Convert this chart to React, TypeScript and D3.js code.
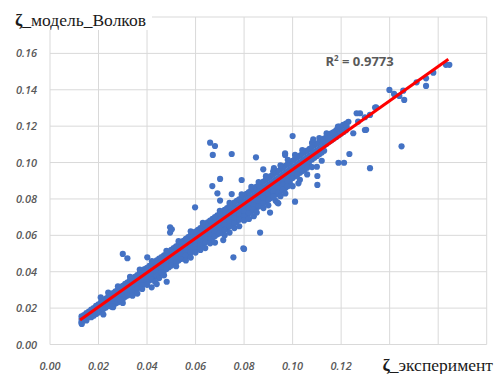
import React from 'react';
import * as d3 from 'd3';

// dense band along the diagonal: [x, y1, y2, ...]
const bandColumns: number[][] = [
  [0.013, 0.0155, 0.0140, 0.0125, 0.0118],
  [0.015, 0.0172, 0.0158, 0.0145, 0.0132],
  [0.017, 0.0192, 0.0178, 0.0163, 0.0150],
  [0.019, 0.0212, 0.0196, 0.0181, 0.0168],
  [0.021, 0.0232, 0.0217, 0.0200, 0.0186],
  [0.023, 0.0252, 0.0236, 0.0220, 0.0203],
  [0.025, 0.0272, 0.0256, 0.0238, 0.0222],
  [0.027, 0.0292, 0.0274, 0.0257, 0.0240, 0.0225],
  [0.029, 0.0312, 0.0294, 0.0276, 0.0259, 0.0243],
  [0.031, 0.0333, 0.0313, 0.0295, 0.0278, 0.0262],
  [0.033, 0.0354, 0.0332, 0.0314, 0.0296, 0.0280],
  [0.035, 0.0372, 0.0352, 0.0332, 0.0315, 0.0298],
  [0.037, 0.0392, 0.0370, 0.0351, 0.0333, 0.0316],
  [0.039, 0.0414, 0.0390, 0.0370, 0.0352, 0.0335],
  [0.041, 0.0432, 0.0409, 0.0388, 0.0370, 0.0352],
  [0.043, 0.0452, 0.0428, 0.0407, 0.0389, 0.0370],
  [0.045, 0.0472, 0.0447, 0.0426, 0.0407, 0.0388],
  [0.047, 0.0490, 0.0466, 0.0445, 0.0426, 0.0406],
  [0.049, 0.0510, 0.0485, 0.0464, 0.0445, 0.0425],
  [0.051, 0.0530, 0.0504, 0.0482, 0.0463, 0.0443],
  [0.053, 0.0550, 0.0524, 0.0501, 0.0481, 0.0462],
  [0.055, 0.0570, 0.0542, 0.0520, 0.0500, 0.0480],
  [0.057, 0.0590, 0.0561, 0.0538, 0.0518, 0.0498],
  [0.059, 0.0610, 0.0580, 0.0557, 0.0537, 0.0516],
  [0.061, 0.0630, 0.0599, 0.0576, 0.0555, 0.0534],
  [0.063, 0.0652, 0.0619, 0.0595, 0.0574, 0.0552],
  [0.065, 0.0671, 0.0638, 0.0614, 0.0592, 0.0570],
  [0.067, 0.0690, 0.0657, 0.0632, 0.0610, 0.0588],
  [0.069, 0.0710, 0.0676, 0.0651, 0.0628, 0.0606],
  [0.071, 0.0730, 0.0695, 0.0670, 0.0646, 0.0622],
  [0.073, 0.0750, 0.0715, 0.0689, 0.0665, 0.0640],
  [0.075, 0.0770, 0.0734, 0.0708, 0.0683, 0.0658],
  [0.077, 0.0790, 0.0753, 0.0727, 0.0702, 0.0676],
  [0.079, 0.0808, 0.0772, 0.0745, 0.0720, 0.0695],
  [0.081, 0.0828, 0.0791, 0.0764, 0.0739, 0.0713],
  [0.083, 0.0848, 0.0810, 0.0783, 0.0757, 0.0731],
  [0.085, 0.0866, 0.0830, 0.0801, 0.0776, 0.0750],
  [0.087, 0.0886, 0.0848, 0.0820, 0.0794, 0.0768],
  [0.089, 0.0906, 0.0867, 0.0839, 0.0813, 0.0786],
  [0.091, 0.0925, 0.0886, 0.0858, 0.0831, 0.0805],
  [0.093, 0.0944, 0.0905, 0.0876, 0.0850, 0.0823],
  [0.095, 0.0963, 0.0924, 0.0895, 0.0868, 0.0842],
  [0.097, 0.0982, 0.0943, 0.0914, 0.0887, 0.0860],
  [0.099, 0.1000, 0.0962, 0.0932, 0.0905, 0.0880],
  [0.101, 0.1020, 0.0981, 0.0951, 0.0925],
  [0.103, 0.1038, 0.1000, 0.0970, 0.0944],
  [0.105, 0.1058, 0.1019, 0.0989, 0.0962],
  [0.107, 0.1075, 0.1038, 0.1008, 0.0982],
  [0.109, 0.1095, 0.1057, 0.1027],
  [0.111, 0.1113, 0.1076, 0.1046],
  [0.113, 0.1132, 0.1095, 0.1065],
  [0.115, 0.1150, 0.1114],
  [0.117, 0.1168, 0.1132],
  [0.119, 0.1188, 0.1150],
  [0.121, 0.1205, 0.1168],
  [0.123, 0.1224],
];

// second pass of the band, between the columns above
const bandColumnsB: number[][] = [
  [0.014, 0.0162, 0.0148, 0.0136],
  [0.016, 0.0181, 0.0165, 0.0151],
  [0.018, 0.0200, 0.0186, 0.0170, 0.0158],
  [0.020, 0.0221, 0.0205, 0.0190, 0.0176],
  [0.022, 0.0240, 0.0224, 0.0210, 0.0195],
  [0.024, 0.0262, 0.0244, 0.0228, 0.0212],
  [0.026, 0.0282, 0.0262, 0.0247, 0.0230],
  [0.028, 0.0301, 0.0283, 0.0266, 0.0249, 0.0232],
  [0.030, 0.0322, 0.0300, 0.0284, 0.0268, 0.0250],
  [0.032, 0.0341, 0.0322, 0.0304, 0.0286, 0.0270],
  [0.034, 0.0362, 0.0340, 0.0322, 0.0305, 0.0288],
  [0.036, 0.0381, 0.0360, 0.0341, 0.0323, 0.0306],
  [0.038, 0.0402, 0.0378, 0.0360, 0.0342, 0.0325],
  [0.040, 0.0421, 0.0398, 0.0379, 0.0361, 0.0343, 0.0328],
  [0.042, 0.0441, 0.0418, 0.0397, 0.0379, 0.0360],
  [0.044, 0.0462, 0.0437, 0.0416, 0.0397, 0.0378],
  [0.046, 0.0480, 0.0456, 0.0435, 0.0416, 0.0396],
  [0.048, 0.0500, 0.0475, 0.0454, 0.0435, 0.0415],
  [0.050, 0.0520, 0.0494, 0.0473, 0.0454, 0.0434],
  [0.052, 0.0540, 0.0513, 0.0491, 0.0472, 0.0452],
  [0.054, 0.0560, 0.0533, 0.0510, 0.0490, 0.0470],
  [0.056, 0.0580, 0.0551, 0.0529, 0.0508, 0.0488],
  [0.058, 0.0600, 0.0570, 0.0548, 0.0527, 0.0506],
  [0.060, 0.0620, 0.0590, 0.0566, 0.0545, 0.0524, 0.0505],
  [0.062, 0.0640, 0.0610, 0.0585, 0.0564, 0.0542],
  [0.064, 0.0660, 0.0628, 0.0604, 0.0582, 0.0560],
  [0.066, 0.0681, 0.0647, 0.0622, 0.0600, 0.0578],
  [0.068, 0.0700, 0.0666, 0.0641, 0.0618, 0.0596],
  [0.070, 0.0720, 0.0686, 0.0660, 0.0636, 0.0612],
  [0.072, 0.0740, 0.0705, 0.0679, 0.0655, 0.0630],
  [0.074, 0.0760, 0.0724, 0.0698, 0.0673, 0.0648],
  [0.076, 0.0780, 0.0743, 0.0717, 0.0692, 0.0667],
  [0.078, 0.0798, 0.0762, 0.0736, 0.0711, 0.0686],
  [0.080, 0.0818, 0.0781, 0.0755, 0.0730, 0.0704, 0.0682],
  [0.082, 0.0838, 0.0800, 0.0773, 0.0748, 0.0722],
  [0.084, 0.0856, 0.0820, 0.0792, 0.0766, 0.0741],
  [0.086, 0.0876, 0.0839, 0.0811, 0.0785, 0.0759],
  [0.088, 0.0896, 0.0858, 0.0830, 0.0804, 0.0777],
  [0.090, 0.0915, 0.0877, 0.0848, 0.0822, 0.0796],
  [0.092, 0.0934, 0.0896, 0.0867, 0.0841, 0.0814],
  [0.094, 0.0953, 0.0915, 0.0886, 0.0859, 0.0833],
  [0.096, 0.0972, 0.0934, 0.0905, 0.0878, 0.0851],
  [0.098, 0.0991, 0.0953, 0.0923, 0.0896, 0.0870],
  [0.100, 0.1010, 0.0972, 0.0942, 0.0915],
  [0.102, 0.1029, 0.0990, 0.0961, 0.0934],
  [0.104, 0.1048, 0.1009, 0.0980, 0.0953],
  [0.106, 0.1066, 0.1028, 0.0999, 0.0972],
  [0.108, 0.1085, 0.1047, 0.1017],
  [0.110, 0.1104, 0.1066, 0.1036],
  [0.112, 0.1122, 0.1085, 0.1055],
  [0.114, 0.1141, 0.1104],
  [0.116, 0.1160, 0.1122],
  [0.118, 0.1178, 0.1141],
  [0.120, 0.1196, 0.1160],
  [0.122, 0.1214, 0.1178],
];

// ragged points just off the band edges
const edgePoints: [number, number][] = [
  [0.022, 0.0165], [0.026, 0.0205], [0.030, 0.0228], [0.034, 0.0268],
  [0.036, 0.0280], [0.038, 0.0305], [0.045, 0.0365], [0.047, 0.0380],
  [0.052, 0.0430], [0.056, 0.0462], [0.058, 0.0478], [0.062, 0.0520],
  [0.064, 0.0530], [0.066, 0.0556], [0.068, 0.0560], [0.072, 0.0600],
  [0.074, 0.0615], [0.076, 0.0640], [0.078, 0.0650], [0.082, 0.0690],
  [0.084, 0.0705], [0.088, 0.0750], [0.090, 0.0765], [0.093, 0.0790],
  [0.095, 0.0815], [0.097, 0.0830], [0.100, 0.0870], [0.103, 0.0905],
  [0.106, 0.0935], [0.108, 0.0975], [0.112, 0.1010],
  [0.024, 0.0285], [0.028, 0.0320], [0.033, 0.0372], [0.037, 0.0412],
  [0.042, 0.0458], [0.048, 0.0515], [0.053, 0.0568], [0.058, 0.0622],
  [0.063, 0.0668], [0.070, 0.0735], [0.074, 0.0778], [0.079, 0.0825],
  [0.083, 0.0866], [0.086, 0.0893], [0.089, 0.0925], [0.092, 0.0952],
  [0.095, 0.0985], [0.098, 0.1015], [0.101, 0.1042], [0.104, 0.1068],
  [0.108, 0.1108], [0.111, 0.1135], [0.114, 0.1160],
];

// scattered points away from the band
const outlierPoints: [number, number][] = [
  [0.0131, 0.0113], [0.0209, 0.0259], [0.0254, 0.0208], [0.0289, 0.0245],
  [0.0300, 0.0498], [0.0319, 0.0474], [0.0401, 0.0479], [0.0419, 0.0314],
  [0.0433, 0.0345], [0.0440, 0.0332], [0.0481, 0.0345], [0.0495, 0.0644],
  [0.0495, 0.0615], [0.0502, 0.0633], [0.0598, 0.0754], [0.0660, 0.1109],
  [0.0680, 0.1091], [0.0671, 0.1042], [0.0749, 0.1047], [0.0849, 0.1029],
  [0.0969, 0.1042], [0.0701, 0.0910], [0.0669, 0.0871], [0.0790, 0.0904],
  [0.0690, 0.0831], [0.0749, 0.0827], [0.0701, 0.0791], [0.0937, 0.0780],
  [0.0941, 0.0776], [0.0852, 0.0725], [0.0907, 0.0725], [0.0714, 0.0574],
  [0.0797, 0.0529], [0.0800, 0.0525], [0.0756, 0.0479], [0.0866, 0.0615],
  [0.1000, 0.1146], [0.0969, 0.1051], [0.0923, 0.0969], [0.0879, 0.0963],
  [0.1100, 0.0977], [0.1102, 0.0926], [0.1102, 0.0877], [0.1024, 0.0886],
  [0.1010, 0.0785], [0.0920, 0.0813], [0.1085, 0.1128], [0.1168, 0.1161],
  [0.1189, 0.0999], [0.1212, 0.0999], [0.1234, 0.1047], [0.1319, 0.0969],
  [0.1449, 0.1089],
];

// sparse upper tail
const upperPoints: [number, number][] = [
  [0.1127, 0.1124], [0.1147, 0.1134], [0.1167, 0.1163], [0.1187, 0.1197],
  [0.1193, 0.1197], [0.1209, 0.1207], [0.1223, 0.1197], [0.1250, 0.1161],
  [0.1270, 0.1225], [0.1278, 0.1271], [0.1264, 0.1271], [0.1298, 0.1249],
  [0.1303, 0.1180], [0.1298, 0.1179], [0.1319, 0.1262], [0.1340, 0.1302],
  [0.1344, 0.1304], [0.1399, 0.1399], [0.1418, 0.1377], [0.1440, 0.1366],
  [0.1456, 0.1395], [0.1460, 0.1344], [0.1511, 0.1441], [0.1550, 0.1463],
  [0.1550, 0.1421], [0.1580, 0.1494], [0.1632, 0.1537], [0.1646, 0.1537],
];

const trendX = [0.0124, 0.1642];
const trendSlope = 0.944;
const trendIntercept = 0.0018;
const rSquared = '0.9773';

const xTicks = [0, 0.02, 0.04, 0.06, 0.08, 0.1, 0.12, 0.14, 0.16, 0.18];
const xTickLabels = ['0.00', '0.02', '0.04', '0.06', '0.08', '0.10', '0.12'];
const yTicks = [0, 0.02, 0.04, 0.06, 0.08, 0.1, 0.12, 0.14, 0.16, 0.18];
const yTickLabels = ['0.00', '0.02', '0.04', '0.06', '0.08', '0.10', '0.12', '0.14', '0.16'];

const width = 500;
const height = 374;

export default function App() {
  const x = d3.scaleLinear().domain([0, 0.18]).range([50, 486.7]);
  const y = d3.scaleLinear().domain([0, 0.18]).range([344.5, 17]);

  const points: [number, number][] = [];
  bandColumns.concat(bandColumnsB).forEach(col => {
    col.slice(1).forEach(v => points.push([col[0], v]));
  });
  edgePoints.forEach(p => points.push(p));
  outlierPoints.forEach(p => points.push(p));
  upperPoints.forEach(p => points.push(p));

  const line = d3.line<number>()
    .x(d => x(d))
    .y(d => y(trendSlope * d + trendIntercept));

  const tickFont = { fontFamily: '"Open Sans", sans-serif', fontStyle: 'italic', fontWeight: 600, fontSize: 11, fill: '#595959' };

  return (
    <div style={{ position: 'absolute', left: 0, top: 0 }}>
      <svg width={width} height={height} viewBox={`0 0 ${width} ${height}`} style={{ display: 'block', background: '#fff' }}>
        <g stroke="#d9d9d9" strokeWidth={1}>
          {xTicks.map(t => (
            <line key={'gx' + t} x1={x(t)} x2={x(t)} y1={y(0.18)} y2={y(0)} />
          ))}
          {yTicks.map(t => (
            <line key={'gy' + t} x1={x(0)} x2={x(0.18)} y1={y(t)} y2={y(t)} />
          ))}
        </g>

        {yTickLabels.map((lab, i) => (
          <text key={'yl' + lab} x={37} y={y(yTicks[i]) + 4} textAnchor="end" style={tickFont}>{lab}</text>
        ))}
        {xTickLabels.map((lab, i) => (
          <text key={'xl' + lab} x={x(xTicks[i])} y={370} textAnchor="middle" style={tickFont}>{lab}</text>
        ))}

        <g fill="#4472c4">
          {points.map((p, i) => (
            <circle key={i} cx={x(p[0])} cy={y(p[1])} r={3.1} />
          ))}
        </g>

        <path d={line(trendX) || ''} fill="none" stroke="#ff0000" strokeWidth={3} />

        <text x={325.5} y={66} fontFamily="Open Sans" fontWeight={700} fontSize={13} fill="#595959">
          R<tspan fontSize={8} dy={-5}>2</tspan><tspan dy={5}> = {rSquared}</tspan>
        </text>

        <rect x={10} y={6} width={142} height={24} fill="#fff" />
        <text x={15} y={26} fontFamily="Liberation Serif" fontSize={17.5} fill="#1a1a1a">
          <tspan fontWeight="bold">ζ</tspan>_модель_Волков
        </text>

        <text x={493} y={371} textAnchor="end" fontFamily="Liberation Serif" fontSize={17.5} fill="#1a1a1a">
          <tspan fontWeight="bold">ζ</tspan>_эксперимент
        </text>
      </svg>
    </div>
  );
}
